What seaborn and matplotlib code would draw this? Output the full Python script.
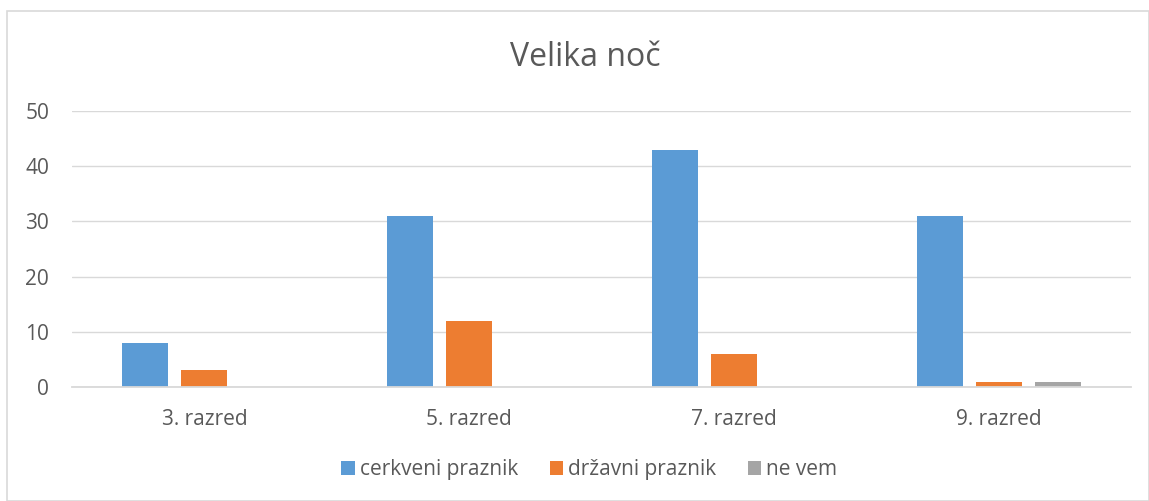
import pandas as pd
import matplotlib.pyplot as plt
import seaborn as sns
from matplotlib.patches import Rectangle

# data
razredi = ['3. razred', '5. razred', '7. razred', '9. razred']
cerkveni = [8, 31, 43, 31]
drzavni = [3, 12, 6, 1]
ne_vem = [0, 0, 0, 1]
serije = ['cerkveni praznik', 'državni praznik', 'ne vem']
barve = ['#5B9BD5', '#ED7D31', '#A5A5A5']

df = pd.DataFrame({
    'razred': razredi * 3,
    'odgovor': [serije[0]] * 4 + [serije[1]] * 4 + [serije[2]] * 4,
    'stevilo': cerkveni + drzavni + ne_vem,
})

sns.set_style('white')
plt.rcParams['font.family'] = ['Open Sans', 'DejaVu Sans']
siva = '#595959'

fig = plt.figure(figsize=(11.49, 5.01), dpi=100)
ax = fig.add_axes([0.0627, 0.2275, 0.9217, 0.5510])

sns.barplot(data=df, x='razred', y='stevilo', hue='odgovor', hue_order=serije,
            palette=barve, width=0.668, gap=0.22, saturation=1, linewidth=0, ax=ax)

ax.set_ylim(0, 50)
ax.set_yticks(range(0, 51, 10))
ax.set_xlim(-0.5, 3.5)
ax.grid(axis='y', color='#D9D9D9', lw=1)
ax.set_axisbelow(True)
for s in ['top', 'right', 'left']:
    ax.spines[s].set_visible(False)
ax.spines['bottom'].set_color('#D9D9D9')
ax.spines['bottom'].set_linewidth(1.3)
ax.tick_params(axis='y', length=0, pad=16.5, labelsize=15, labelcolor=siva)
ax.tick_params(axis='x', length=0, pad=16, labelsize=15, labelcolor=siva)
ax.set_xlabel('')
ax.set_ylabel('')

fig.text(0.509, 0.886, 'Velika noč', ha='center', va='center', fontsize=23, color=siva)

h, l = ax.get_legend_handles_labels()
ax.legend(h, l, loc='center', bbox_to_anchor=(0.513, 0.063), bbox_transform=fig.transFigure,
          ncol=3, frameon=False, fontsize=15, labelcolor=siva, handlelength=0.65,
          handleheight=0.65, handletextpad=0.25, columnspacing=1.5)

# chart border
fig.patches.append(Rectangle((0.006, 0.0), 0.994, 0.978, transform=fig.transFigure,
                             fill=False, edgecolor='#D9D9D9', lw=1.2))

plt.savefig('out.png', dpi=100)
plt.close(fig)
